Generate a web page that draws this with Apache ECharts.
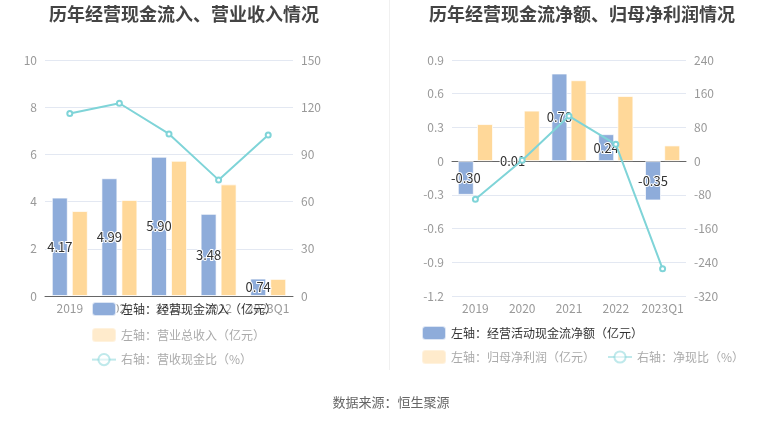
<!DOCTYPE html>
<html><head><meta charset="utf-8">
<script src="https://cdn.jsdelivr.net/npm/echarts@6/dist/echarts.min.js"></script>
<style>html,body{margin:0;padding:0;background:#fff}#c{width:772px;height:423px}</style>
</head><body><div id="c"></div>
<script>
var categories = ['2019', '2020', '2021', '2022', '2023Q1'];
// left chart
var cashInflow = [4.17, 4.99, 5.90, 3.48, 0.74];
var revenue = [3.60, 4.07, 5.73, 4.73, 0.725];
var cashRevRatio = [116, 122.5, 103, 73.8, 102.3];
var leftTicksL = [0, 10, 2];
var leftTicksR = [0, 150, 30];
// right chart
var netCashFlow = [-0.30, 0.01, 0.78, 0.24, -0.35];
var netProfit = [0.33, 0.45, 0.72, 0.58, 0.14];
var netCashRatio = [-90.5, 2.2, 107, 40, -255.5];
var rightTicksL = [-1.2, 0.9, 0.3];
var rightTicksR = [-320, 240, 80];

var BLUE = '#8eacda', YEL = '#ffd899', TEAL = '#7fd4d8';
var FONT = 'Noto Sans CJK SC';
var axisLab = {color: '#999', fontSize: 12, fontFamily: FONT};
var gridTop = 60, gridBottom = 127;

function yAx(gi, t, split, fmt) {
  return {type: 'value', gridIndex: gi, min: t[0], max: t[1], interval: t[2],
    axisLine: {show: false}, axisTick: {show: false},
    axisLabel: Object.assign({margin: 8, formatter: fmt}, axisLab),
    splitLine: {show: split, lineStyle: {color: '#e3e8f2'}}};
}
var fmt1 = function (v) { return Math.abs(v) < 1e-9 ? '0' : (Math.round(v * 10) / 10).toString(); };
var fmt0 = function (v) { return Math.round(v).toString(); };
var barLabel = {show: true, position: 'inside', color: '#333', fontSize: 13,
  textBorderColor: '#fff', textBorderWidth: 2, fontFamily: FONT,
  formatter: function (p) { return p.value.toFixed(2); }};
var barItem = function (c) { return {color: c, borderColor: 'rgba(255,255,255,0.7)', borderWidth: 1}; };
var legText = {fontSize: 12, color: '#aaa', fontFamily: FONT};
var faded = {itemStyle: {opacity: 0.5}, lineStyle: {opacity: 0.5}, textStyle: {color: '#aaa'}};

var option = {
  animation: false,
  title: [
    {text: '历年经营现金流入、营业收入情况', left: 179, top: 0, textAlign: 'center',
      textStyle: {fontSize: 18, fontWeight: 'bold', color: '#444', fontFamily: FONT}},
    {text: '历年经营现金流净额、归母净利润情况', left: 577, top: 0, textAlign: 'center',
      textStyle: {fontSize: 18, fontWeight: 'bold', color: '#444', fontFamily: FONT}},
    {text: '数据来源：恒生聚源', left: 386, top: 391, textAlign: 'center',
      textStyle: {fontSize: 13, fontWeight: 'normal', color: '#666', fontFamily: FONT}}
  ],
  graphic: [{type: 'line', shape: {x1: 389.5, y1: 0, x2: 389.5, y2: 370}, style: {stroke: '#f0f0f0', lineWidth: 1}}],
  legend: [
    {orient: 'vertical', left: 86, top: 296, itemWidth: 24, itemHeight: 14, itemGap: 10, textStyle: legText,
      data: [
        {name: '左轴：经营现金流入（亿元）', textStyle: {color: '#333'}},
        Object.assign({name: '左轴：营业总收入（亿元）'}, faded),
        Object.assign({name: '右轴：营收现金比（%）'}, faded)
      ]},
    {orient: 'horizontal', left: 416, top: 320, itemWidth: 24, itemHeight: 14, textStyle: legText,
      data: [{name: '左轴：经营活动现金流净额（亿元）', textStyle: {color: '#333'}}]},
    {orient: 'horizontal', left: 416, top: 344, itemWidth: 24, itemHeight: 14, itemGap: 12, textStyle: legText,
      data: [
        Object.assign({name: '左轴：归母净利润（亿元）'}, faded),
        Object.assign({name: '右轴：净现比（%）'}, faded)
      ]}
  ],
  grid: [
    {left: 45, right: 479, top: gridTop, bottom: gridBottom},
    {left: 452, right: 86, top: gridTop, bottom: gridBottom}
  ],
  xAxis: [
    {type: 'category', gridIndex: 0, data: categories,
      axisLine: {lineStyle: {color: '#666'}}, axisTick: {alignWithLabel: true, length: 4, lineStyle: {color: '#666'}},
      axisLabel: Object.assign({margin: 6, interval: 0}, axisLab)},
    {type: 'category', gridIndex: 1, data: categories, position: 'bottom',
      axisLine: {show: false, onZero: false}, axisTick: {show: false},
      axisLabel: Object.assign({margin: 6, interval: 0}, axisLab)},
    {type: 'category', gridIndex: 1, data: categories,
      axisLine: {onZero: true, onZeroAxisIndex: 2, lineStyle: {color: '#666'}},
      axisTick: {alignWithLabel: true, length: 4, lineStyle: {color: '#666'}},
      axisLabel: {show: false}}
  ],
  yAxis: [
    yAx(0, leftTicksL, true, fmt0),
    yAx(0, leftTicksR, false, fmt0),
    yAx(1, rightTicksL, true, fmt1),
    yAx(1, rightTicksR, false, fmt0)
  ],
  series: [
    {name: '左轴：经营现金流入（亿元）', type: 'bar', xAxisIndex: 0, yAxisIndex: 0, data: cashInflow,
      barWidth: 16, barGap: '25%', itemStyle: barItem(BLUE), label: barLabel, z: 3},
    {name: '左轴：营业总收入（亿元）', type: 'bar', xAxisIndex: 0, yAxisIndex: 0, data: revenue,
      barWidth: 16, barGap: '25%', itemStyle: barItem(YEL)},
    {name: '右轴：营收现金比（%）', type: 'line', xAxisIndex: 0, yAxisIndex: 1, data: cashRevRatio,
      symbol: 'emptyCircle', symbolSize: 5, lineStyle: {color: TEAL, width: 2}, itemStyle: {color: TEAL}, z: 4},
    {name: '左轴：经营活动现金流净额（亿元）', type: 'bar', xAxisIndex: 1, yAxisIndex: 2, data: netCashFlow,
      barWidth: 16, barGap: '20%', itemStyle: barItem(BLUE), label: barLabel, z: 3},
    {name: '左轴：归母净利润（亿元）', type: 'bar', xAxisIndex: 1, yAxisIndex: 2, data: netProfit,
      barWidth: 16, barGap: '20%', itemStyle: barItem(YEL)},
    {name: '右轴：净现比（%）', type: 'line', xAxisIndex: 1, yAxisIndex: 3, data: netCashRatio,
      symbol: 'emptyCircle', symbolSize: 5, lineStyle: {color: TEAL, width: 2}, itemStyle: {color: TEAL}, z: 4}
  ]
};
var chart = echarts.init(document.getElementById('c'));
chart.setOption(option);
</script></body></html>
